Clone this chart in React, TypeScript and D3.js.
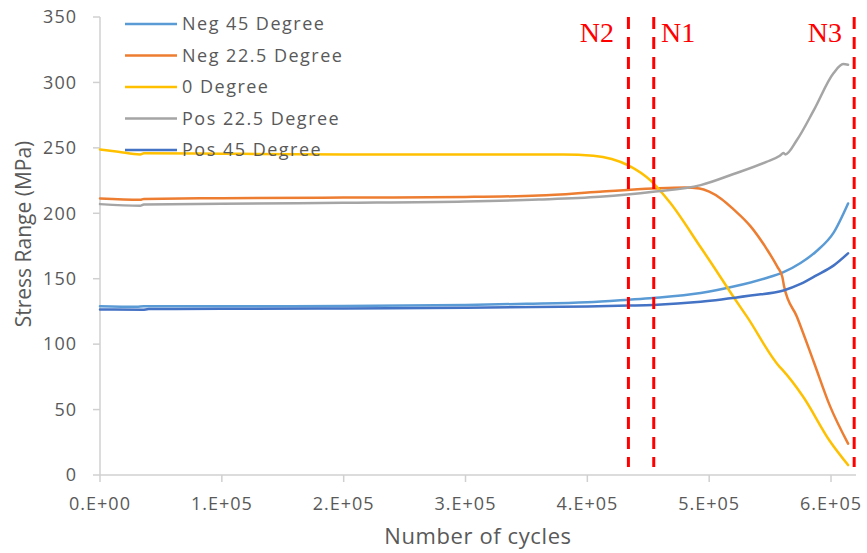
import React from "react";
import * as d3 from "d3";

const seriesNames = ["Neg 45 Degree", "Neg 22.5 Degree", "0 Degree", "Pos 22.5 Degree", "Pos 45 Degree"];
const seriesColors = ["#5B9BD5", "#ED7D31", "#FFC000", "#A5A5A5", "#4472C4"];

const neg45X = [0, 30000, 36000, 100000, 200000, 300000, 350000, 400000, 434000, 454000, 493000, 520000, 545000, 561000, 575000, 588000, 602000, 614000];
const neg45Y = [129, 128.6, 128.9, 128.9, 129.2, 130, 130.8, 132, 134, 135.3, 139, 144, 150, 155, 162, 171, 185, 207.5];

const neg225X = [0, 33000, 36000, 100000, 200000, 300000, 360000, 410000, 454000, 480000, 492000, 500000, 510000, 520000, 534000, 547000, 556000, 560000, 561500, 572000, 586000, 599000, 614000];
const neg225Y = [211.3, 210.3, 211, 211.5, 212, 212.5, 213.5, 216.5, 219, 219.8, 219, 216.5, 211, 203, 190, 173, 159, 151.5, 144, 121, 86, 53, 24];

const deg0X = [0, 15000, 33000, 36000, 100000, 200000, 300000, 380000, 405000, 420000, 434000, 452000, 468000, 493000, 501000, 520000, 531000, 558000, 560000, 577000, 599000, 614000];
const deg0Y = [248.8, 247, 245, 245.8, 245.5, 245, 245, 245, 244, 241.5, 236.5, 225, 208, 174, 163, 136, 121, 82.5, 80.5, 60, 26, 7.6];

const pos225X = [0, 33000, 36000, 100000, 200000, 300000, 360000, 410000, 454000, 493000, 520000, 547000, 558000, 561000, 562500, 572000, 586000, 602000, 610000, 614000];
const pos225Y = [207, 205.8, 206.8, 207.3, 208, 209, 210.5, 212.6, 216.4, 221.5, 230, 239.3, 244, 246, 245, 256, 279, 307, 314, 313.5];

const pos45X = [0, 35000, 40000, 100000, 200000, 300000, 400000, 434000, 454000, 493000, 534000, 561000, 575000, 588000, 602000, 614000];
const pos45Y = [126.5, 126.3, 126.8, 127, 127.3, 127.8, 128.8, 129.5, 130, 132.4, 137.2, 141, 146, 152.5, 160, 169.4];

const seriesX = [neg45X, neg225X, deg0X, pos225X, pos45X];
const seriesY = [neg45Y, neg225Y, deg0Y, pos225Y, pos45Y];

const yTicks = [0, 50, 100, 150, 200, 250, 300, 350];
const xTicks = [0, 100000, 200000, 300000, 400000, 500000, 600000];
const xTickLabels = ["0.E+00", "1.E+05", "2.E+05", "3.E+05", "4.E+05", "5.E+05", "6.E+05"];

const markerNames = ["N2", "N1", "N3"];
const markerX = [433700, 454500, 619000];

const W = 867;
const H = 553;
const left = 100;
const right = 856;
const top = 17;
const bottom = 475;

export default function App() {
  const x = d3.scaleLinear().domain([0, 620500]).range([left, right]);
  const y = d3.scaleLinear().domain([0, 350]).range([bottom, top]);
  const line = d3
    .line<[number, number]>()
    .x((d) => x(d[0]))
    .y((d) => y(d[1]))
    .curve(d3.curveMonotoneX);

  const font = "'Open Sans', sans-serif";
  const serif = "'Liberation Serif', 'Times New Roman', serif";
  const gray = "#595959";
  const axisColor = "#D0D0D0";

  return (
    <svg width={W} height={H} style={{ position: "absolute", left: 0, top: 0, background: "#fff" }}>
      <rect x={0} y={0} width={W} height={H} fill="#fff" />
      {/* axes */}
      <line x1={left} x2={left} y1={top} y2={bottom} stroke={axisColor} strokeWidth={1.5} />
      <line x1={left} x2={right} y1={bottom} y2={bottom} stroke={axisColor} strokeWidth={1.5} />
      {yTicks.map((t) => (
        <g key={"y" + t}>
          <line x1={left - 7} x2={left} y1={y(t)} y2={y(t)} stroke={axisColor} strokeWidth={1.5} />
          <text
            x={77}
            y={y(t)}
            dy="0.35em"
            textAnchor="end"
            fontFamily={font}
            fontSize={18}
            letterSpacing={1}
            fill={gray}
          >
            {t}
          </text>
        </g>
      ))}
      {xTicks.map((t, i) => (
        <g key={"x" + t}>
          <line x1={x(t)} x2={x(t)} y1={bottom} y2={bottom + 7} stroke={axisColor} strokeWidth={1.5} />
          <text
            x={x(t)}
            y={510}
            textAnchor="middle"
            fontFamily={font}
            fontSize={18}
            letterSpacing={1}
            fill={gray}
          >
            {xTickLabels[i]}
          </text>
        </g>
      ))}
      <text
        transform={`translate(31,234) rotate(-90)`}
        textAnchor="middle"
        fontFamily={font}
        fontSize={21}
        fill={gray}
      >
        Stress Range (MPa)
      </text>
      <text x={478} y={544} textAnchor="middle" fontFamily={font} fontSize={22} letterSpacing={0.6} fill={gray}>
        Number of cycles
      </text>

      {/* series */}
      {seriesX.map((xs, i) => {
        const pts: [number, number][] = xs.map((v, j) => [v, seriesY[i][j]]);
        return (
          <path
            key={"s" + i}
            d={line(pts) || ""}
            fill="none"
            stroke={seriesColors[i]}
            strokeWidth={2.5}
            strokeLinejoin="round"
            strokeLinecap="round"
          />
        );
      })}

      {/* legend */}
      {seriesNames.map((n, i) => {
        const ly = 24 + i * 31.5;
        return (
          <g key={"l" + i}>
            <line x1={125} x2={177} y1={ly} y2={ly} stroke={seriesColors[i]} strokeWidth={2.5} />
            <text x={182} y={ly} dy="0.35em" fontFamily={font} fontSize={18} letterSpacing={1.5} fill={gray}>
              {n}
            </text>
          </g>
        );
      })}

      {/* markers */}
      {markerX.map((m, i) => (
        <line
          key={"m" + i}
          x1={x(m)}
          x2={x(m)}
          y1={top}
          y2={467}
          stroke="#FF0000"
          strokeWidth={3}
          strokeDasharray="12 8"
        />
      ))}
      <text x={614} y={42} textAnchor="end" fontFamily={serif} fontSize={28} fill="#FF0000">
        {markerNames[0]}
      </text>
      <text x={661} y={42} textAnchor="start" fontFamily={serif} fontSize={28} fill="#FF0000">
        {markerNames[1]}
      </text>
      <text x={842} y={42} textAnchor="end" fontFamily={serif} fontSize={28} fill="#FF0000">
        {markerNames[2]}
      </text>
    </svg>
  );
}
